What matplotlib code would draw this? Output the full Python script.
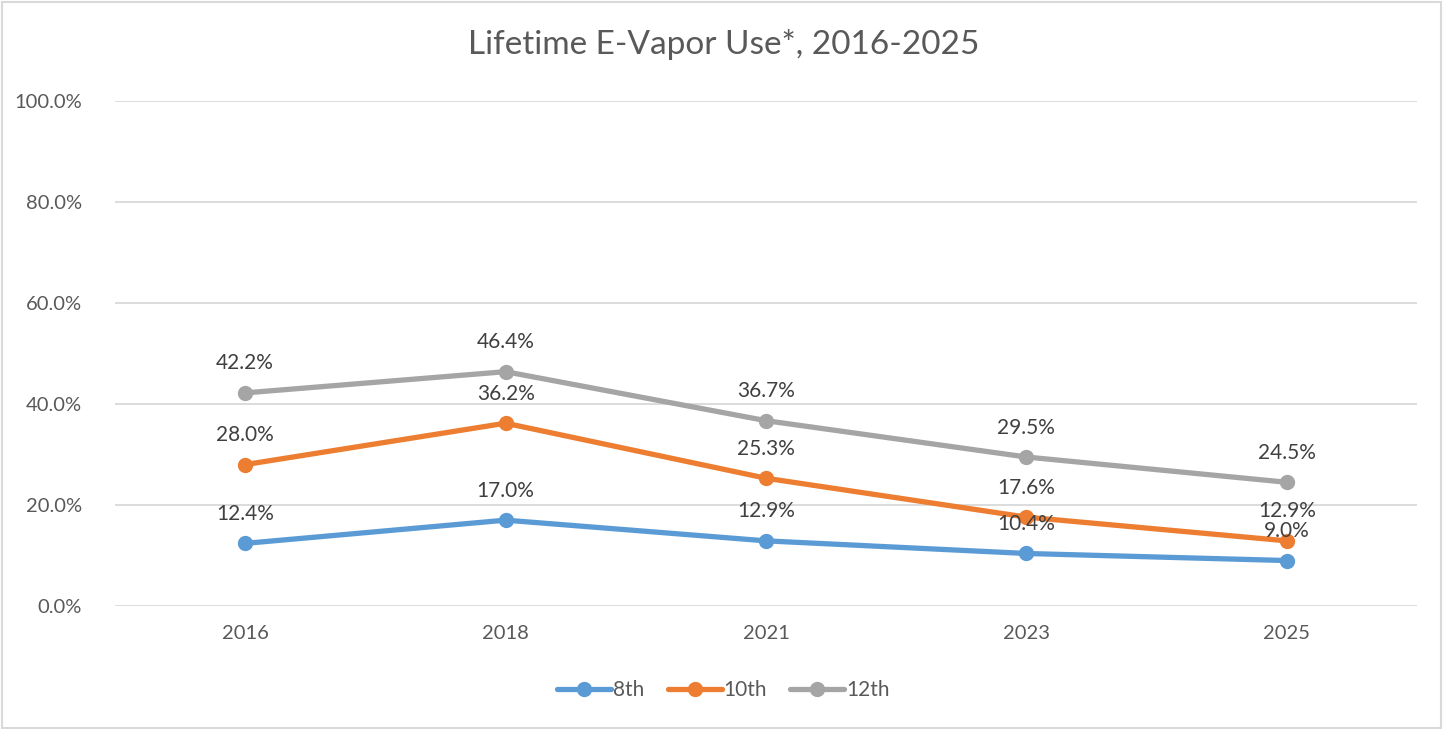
import matplotlib.pyplot as plt
from matplotlib.patches import Rectangle

years = ["2016", "2018", "2021", "2023", "2025"]
grade_8 = [12.4, 17.0, 12.9, 10.4, 9.0]
grade_10 = [28.0, 36.2, 25.3, 17.6, 12.9]
grade_12 = [42.2, 46.4, 36.7, 29.5, 24.5]
series_names = ["8th", "10th", "12th"]
colors = ["#5B9BD5", "#ED7D31", "#A5A5A5"]

plt.rcParams['font.family'] = ['Lato', 'DejaVu Sans']

fig = plt.figure(figsize=(14.47, 7.29), dpi=100)
ax = fig.add_axes([115/1447, 1 - 606/729, 1302/1447, 505/729])

x = list(range(len(years)))
for vals, name, c in zip([grade_8, grade_10, grade_12], series_names, colors):
    ax.plot(x, vals, color=c, lw=3.8, marker='o', markersize=10, label=name,
            solid_capstyle='round', zorder=3)
    for xi, v in zip(x, vals):
        ax.annotate(f"{v:.1f}%", (xi, v), xytext=(0, 14), textcoords='offset points',
                    ha='center', va='bottom', fontsize=15, color='#404040', zorder=4)

ax.set_xlim(-0.5, len(years) - 0.5)
ax.set_ylim(0, 100)
ax.set_yticks(range(0, 101, 20))
ax.set_yticklabels([f"{t:.1f}%" for t in range(0, 101, 20)])
ax.set_xticks(x)
ax.set_xticklabels(years)
ax.tick_params(length=0, labelsize=14.5, labelcolor='#595959', pad=14)
ax.tick_params(axis='y', pad=24)
ax.grid(axis='y', color='#D9D9D9', lw=1.3)
ax.set_axisbelow(True)
for s in ax.spines.values():
    s.set_visible(False)

fig.text(0.5, 1 - 45/729, "Lifetime E-Vapor Use*, 2016-2025", ha='center', va='center',
         fontsize=24, color='#595959')

fig.legend(*ax.get_legend_handles_labels(), loc='center', bbox_to_anchor=(0.5, 1 - 690/729),
           ncol=3, frameon=False, fontsize=15, labelcolor='#595959', handlelength=2.6,
           handletextpad=0.1, columnspacing=1.1)

fig.patches.append(Rectangle((1.5/1447, 1.5/729), 1 - 8/1447, 1 - 3/729, transform=fig.transFigure,
                             fill=False, edgecolor='#D9D9D9', lw=1.5))

fig.savefig("out.png", dpi=100)
